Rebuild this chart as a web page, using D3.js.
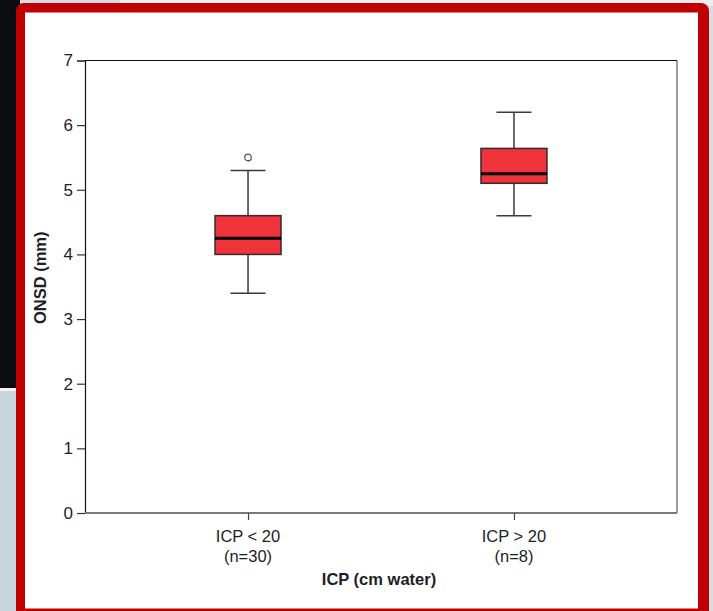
<!DOCTYPE html>
<html>
<head>
<meta charset="utf-8">
<script src="https://cdn.jsdelivr.net/npm/d3@7"></script>
<style>
  body { margin: 0; background: #d6dbe0; }
  svg { display: block; }
  text { font-family: 'Liberation Sans', Arial, sans-serif; fill: #1e1e26; }
</style>
</head>
<body>
<svg id="chart"></svg>
<script>
const groups = ['ICP < 20', 'ICP > 20']
const counts = ['(n=30)', '(n=8)']
const whiskerLow = [3.4, 4.6]
const q1 = [4.0, 5.1]
const median = [4.25, 5.25]
const q3 = [4.6, 5.64]
const whiskerHigh = [5.3, 6.2]
const outliers = [[5.5], []]
const yTicks = [0, 1, 2, 3, 4, 5, 6, 7]

const width = 713
const height = 611
const svg = d3.select('#chart').attr('width', width).attr('height', height)

// backdrop of the slide screenshot
svg.append('rect').attr('x', 0).attr('y', 0).attr('width', width).attr('height', height).attr('fill', '#d8dde2')
svg.append('rect').attr('x', 0).attr('y', 0).attr('width', 20).attr('height', 388).attr('fill', '#0b0c10')
svg.append('rect').attr('x', 0).attr('y', 388).attr('width', 20).attr('height', 3).attr('fill', '#f4f4f4')
svg.append('rect').attr('x', 0).attr('y', 391).attr('width', 20).attr('height', 220).attr('fill', '#c9d5de')
svg.append('rect').attr('x', 120).attr('y', 0).attr('width', 593).attr('height', 6).attr('fill', '#eeeeee')

// red frame
svg.append('rect').attr('x', 16).attr('y', 3).attr('width', 693).attr('height', 640)
  .attr('rx', 8).attr('fill', '#c00000')
svg.append('rect').attr('x', 25).attr('y', 12.5).attr('width', 673).attr('height', 596)
  .attr('fill', '#ffffff')

const margin = { top: 60.5, right: 36, bottom: 98, left: 85 }
const plotW = width - margin.left - margin.right
const plotH = height - margin.top - margin.bottom

const x = d3.scalePoint()
  .domain(groups)
  .range([0, plotW])
  .padding(0.613)

const y = d3.scaleLinear()
  .domain([0, 7])
  .range([plotH, 0])

const g = svg.append('g')
  .attr('transform', `translate(${margin.left},${margin.top})`)

// plot frame: right and bottom grey, left and top black
g.append('line').attr('x1', plotW).attr('x2', plotW).attr('y1', 0).attr('y2', plotH)
  .attr('stroke', '#7a7a7a').attr('stroke-width', 1.5)
g.append('line').attr('x1', 0).attr('x2', plotW).attr('y1', 0).attr('y2', 0)
  .attr('stroke', '#111').attr('stroke-width', 1.2)

// Y axis
const yAxis = g.append('g')
  .call(d3.axisLeft(y).tickValues(yTicks).tickFormat(d3.format('d')).tickSize(8).tickPadding(4))
yAxis.select('.domain').attr('stroke', '#111').attr('stroke-width', 1.2)
yAxis.selectAll('.tick line').attr('stroke', '#333').attr('stroke-width', 1.2)
yAxis.selectAll('.tick text').attr('font-size', 17).attr('fill', '#1e1e26')
  .style('font-family', "'Liberation Sans', Arial, sans-serif")

// X axis
const xAxis = g.append('g')
  .attr('transform', `translate(0,${plotH})`)
  .call(d3.axisBottom(x).tickSize(7).tickFormat(''))
xAxis.select('.domain').attr('stroke', '#7a7a7a').attr('stroke-width', 2).attr('d', `M0,0H${plotW}`)
xAxis.selectAll('.tick line').attr('stroke', '#444').attr('stroke-width', 1.2)

groups.forEach((grp, i) => {
  g.append('text').attr('x', x(grp)).attr('y', plotH + 29)
    .attr('text-anchor', 'middle').attr('font-size', 16.5).text(grp)
  g.append('text').attr('x', x(grp)).attr('y', plotH + 48.5)
    .attr('text-anchor', 'middle').attr('font-size', 16.5).text(counts[i])
})

// axis titles
svg.append('text')
  .attr('x', margin.left + plotW / 2 - 2).attr('y', 585)
  .attr('text-anchor', 'middle').attr('font-size', 16.5).attr('font-weight', 'bold')
  .text('ICP (cm water)')

svg.append('text')
  .attr('transform', `translate(46,${margin.top + plotH / 2 - 9}) rotate(-90)`)
  .attr('text-anchor', 'middle').attr('font-size', 16.5).attr('font-weight', 'bold')
  .text('ONSD (mm)')

// boxes
const boxW = 66
const capW = 35

const boxes = g.selectAll('.box')
  .data(groups.map((grp, i) => ({
    grp, lo: whiskerLow[i], q1: q1[i], med: median[i], q3: q3[i], hi: whiskerHigh[i], out: outliers[i]
  })))
  .enter().append('g')
  .attr('class', 'box')
  .attr('transform', d => `translate(${x(d.grp)},0)`)

boxes.append('line')
  .attr('x1', 0).attr('x2', 0)
  .attr('y1', d => y(d.hi)).attr('y2', d => y(d.q3))
  .attr('stroke', '#3a3a3a').attr('stroke-width', 1.5)
boxes.append('line')
  .attr('x1', 0).attr('x2', 0)
  .attr('y1', d => y(d.q1)).attr('y2', d => y(d.lo))
  .attr('stroke', '#3a3a3a').attr('stroke-width', 1.5)
boxes.append('line')
  .attr('x1', -capW / 2).attr('x2', capW / 2)
  .attr('y1', d => y(d.hi)).attr('y2', d => y(d.hi))
  .attr('stroke', '#3a3a3a').attr('stroke-width', 1.5)
boxes.append('line')
  .attr('x1', -capW / 2).attr('x2', capW / 2)
  .attr('y1', d => y(d.lo)).attr('y2', d => y(d.lo))
  .attr('stroke', '#3a3a3a').attr('stroke-width', 1.5)

boxes.append('rect')
  .attr('x', -boxW / 2)
  .attr('width', boxW)
  .attr('y', d => y(d.q3))
  .attr('height', d => y(d.q1) - y(d.q3))
  .attr('fill', '#f0323a')
  .attr('stroke', '#2e2e2e')
  .attr('stroke-width', 1.5)

boxes.append('line')
  .attr('x1', -boxW / 2).attr('x2', boxW / 2)
  .attr('y1', d => y(d.med)).attr('y2', d => y(d.med))
  .attr('stroke', '#000').attr('stroke-width', 3)

boxes.selectAll('circle')
  .data(d => d.out)
  .enter().append('circle')
  .attr('cx', 0)
  .attr('cy', v => y(v))
  .attr('r', 3.3)
  .attr('fill', '#fff')
  .attr('stroke', '#555')
  .attr('stroke-width', 1.3)
</script>
</body>
</html>
